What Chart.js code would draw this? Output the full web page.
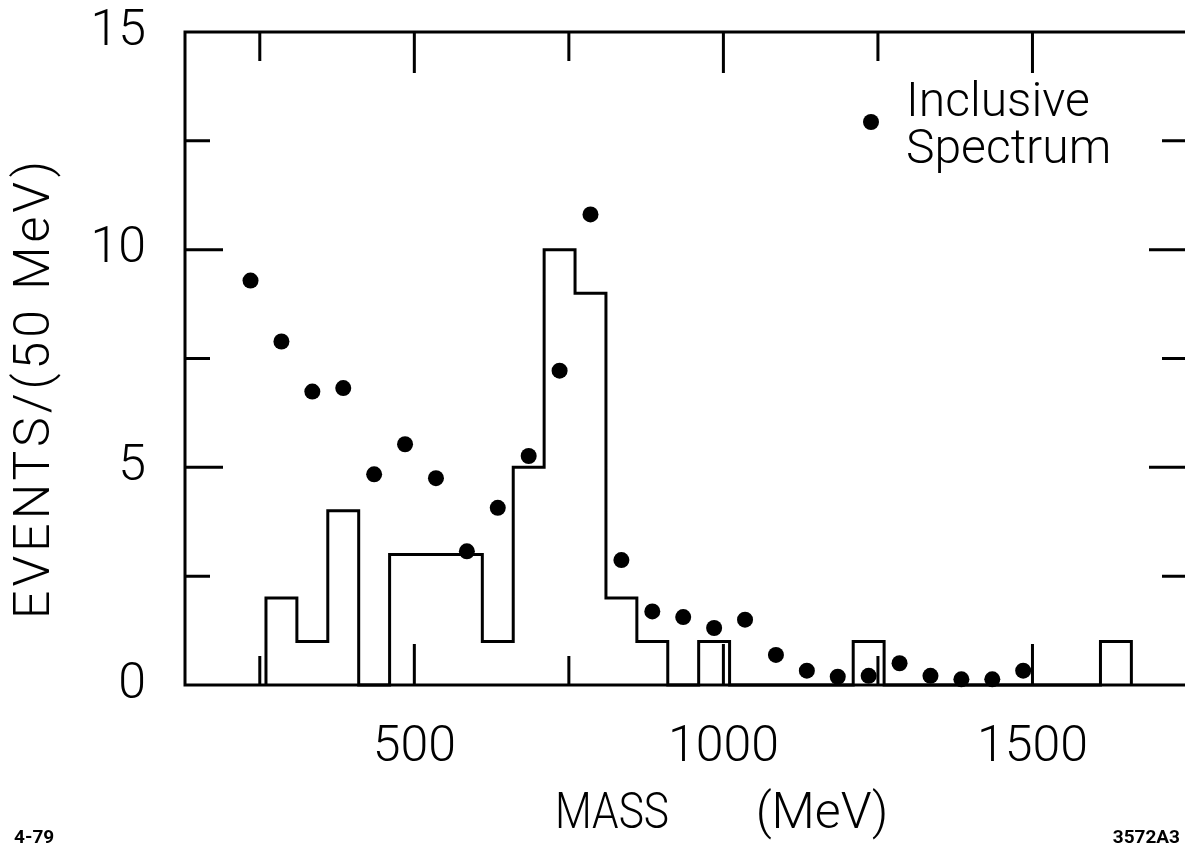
<!DOCTYPE html>
<html><head><meta charset="utf-8">
<script src="https://cdn.jsdelivr.net/npm/chart.js@4.4.0/dist/chart.umd.min.js"></script>
<style>
html,body{margin:0;padding:0;background:#fff;overflow:hidden;width:1185px;height:850px}
#wrap{position:relative;width:1195px;height:850px}
canvas{display:block}
</style></head><body>
<div id="wrap"><canvas id="c" width="1195" height="850"></canvas></div>
<script>
// ---- data (MeV, events per 50 MeV) ----
const binLeftEdges = [260,310,360,410,460,510,560,610,660,710,760,810,860,910,960,1010,1060,1110,1160,1210,1260,1310,1360,1410,1460,1510,1560,1610];
const binWidth = 50;
const histCounts = [2,1,4,0,3,3,3,1,5,10,9,2,1,0,1,0,0,0,0,1,0,0,0,0,0,0,0,1];
const inclusiveMass = [235,285,335,385,435,485,535,585,635,685,735,785,835,885,935,985,1035,1085,1135,1185,1235,1285,1335,1385,1435,1485];
const inclusiveEvents = [9.29,7.89,6.74,6.82,4.84,5.53,4.75,3.07,4.07,5.26,7.22,10.81,2.87,1.69,1.56,1.31,1.50,0.69,0.33,0.19,0.21,0.50,0.21,0.13,0.13,0.33];
const xTickLabels = [500,1000,1500];
const yTickLabels = [0,5,10,15];
const xMajorMarks = [500,1000,1500];
const xMinorMarks = [250,750,1250];
const yMajorMarks = [5,10];
const yMinorMarks = [2.5,7.5,12.5];
const xTitleParts = ['MASS','(MeV)'];
const yTitle = 'EVENTS/(50 MeV)';
const legendLines = ['Inclusive','Spectrum'];
const noteLeft = '4-79';
const noteRight = '3572A3';

// histogram outline built from the bins
const histPoints = [{x: binLeftEdges[0], y: 0}];
binLeftEdges.forEach((e, i) => histPoints.push({x: e, y: histCounts[i]}));
histPoints.push({x: binLeftEdges[binLeftEdges.length - 1] + binWidth, y: 0});
const dotPoints = inclusiveMass.map((m, i) => ({x: m, y: inclusiveEvents[i]}));

const FONT = "Roboto, 'DejaVu Sans', sans-serif";

const framePlugin = {
  id: 'frame',
  afterDatasetsDraw(chart) {
    const {ctx, chartArea: a, scales: {x, y}} = chart;
    ctx.save();
    ctx.strokeStyle = '#000';
    ctx.lineWidth = 3;
    ctx.lineCap = 'butt';
    ctx.strokeRect(a.left, a.top, a.right - a.left, a.bottom - a.top);
    ctx.beginPath();
    const xm = (v, len) => {
      const px = x.getPixelForValue(v);
      ctx.moveTo(px, a.bottom); ctx.lineTo(px, a.bottom - len);
      ctx.moveTo(px, a.top); ctx.lineTo(px, a.top + len);
    };
    const ym = (v, len) => {
      const py = y.getPixelForValue(v);
      ctx.moveTo(a.left, py); ctx.lineTo(a.left + len, py);
      ctx.moveTo(a.right, py); ctx.lineTo(a.right - len, py);
    };
    xMajorMarks.forEach(v => xm(v, 41));
    xMinorMarks.forEach(v => xm(v, 29));
    yMajorMarks.forEach(v => ym(v, 38));
    yMinorMarks.forEach(v => ym(v, 25));
    ctx.stroke();

    ctx.fillStyle = '#000';
    // axis titles
    ctx.font = `300 50px ${FONT}`;
    ctx.textAlign = 'center';
    ctx.textBaseline = 'middle';
    ctx.save();
    ctx.translate(612, 815);
    ctx.scale(0.85, 1);
    ctx.fillText(xTitleParts[0], 0, 0);
    ctx.restore();
    ctx.fillText(xTitleParts[1], 822, 815);
    ctx.save();
    ctx.translate(36, 388);
    ctx.rotate(-Math.PI / 2);
    ctx.letterSpacing = '4px';
    ctx.fillText(yTitle, 0, 0);
    ctx.restore();

    // legend
    ctx.beginPath();
    ctx.arc(871, 122, 8, 0, Math.PI * 2);
    ctx.fill();
    ctx.font = `300 48px ${FONT}`;
    ctx.textAlign = 'left';
    ctx.textBaseline = 'alphabetic';
    ctx.fillText(legendLines[0], 906, 116);
    ctx.fillText(legendLines[1], 906, 163);

    // notes
    ctx.font = `bold 19px ${FONT}`;
    ctx.fillText(noteLeft, 14, 843);
    ctx.textAlign = 'right';
    ctx.fillText(noteRight, 1180, 843);
    ctx.restore();
  }
};

new Chart(document.getElementById('c'), {
  type: 'scatter',
  data: {
    datasets: [
      {
        type: 'line',
        label: 'Histogram',
        data: histPoints,
        stepped: 'before',
        borderColor: '#000',
        borderWidth: 3,
        pointRadius: 0,
        fill: false,
        clip: false
      },
      {
        label: 'Inclusive Spectrum',
        data: dotPoints,
        pointRadius: 8,
        pointHoverRadius: 8,
        backgroundColor: '#000',
        borderColor: '#000',
        borderWidth: 0,
        clip: false
      }
    ]
  },
  options: {
    responsive: false,
    animation: false,
    devicePixelRatio: 1,
    layout: {padding: {top: 32, right: 5, left: 0, bottom: 0}},
    plugins: {legend: {display: false}, tooltip: {enabled: false}},
    scales: {
      x: {
        type: 'linear', min: 129, max: 1750,
        grid: {display: false}, border: {display: false},
        ticks: {color: '#000', font: {family: FONT, size: 50, weight: 300}, padding: 25,
                maxRotation: 0, callback: v => String(v)},
        afterBuildTicks: s => { s.ticks = xTickLabels.map(v => ({value: v})); },
        afterFit: s => { s.height = 165; s.paddingLeft = 0; s.paddingRight = 0; }
      },
      y: {
        type: 'linear', min: 0, max: 15,
        grid: {display: false}, border: {display: false},
        ticks: {color: '#000', font: {family: FONT, size: 50, weight: 300}, padding: 31,
                callback: v => String(v)},
        afterBuildTicks: s => { s.ticks = yTickLabels.map(v => ({value: v})); },
        afterFit: s => { s.width = 185; s.paddingTop = 0; s.paddingBottom = 0; }
      }
    }
  },
  plugins: [framePlugin]
});
</script>
</body></html>
